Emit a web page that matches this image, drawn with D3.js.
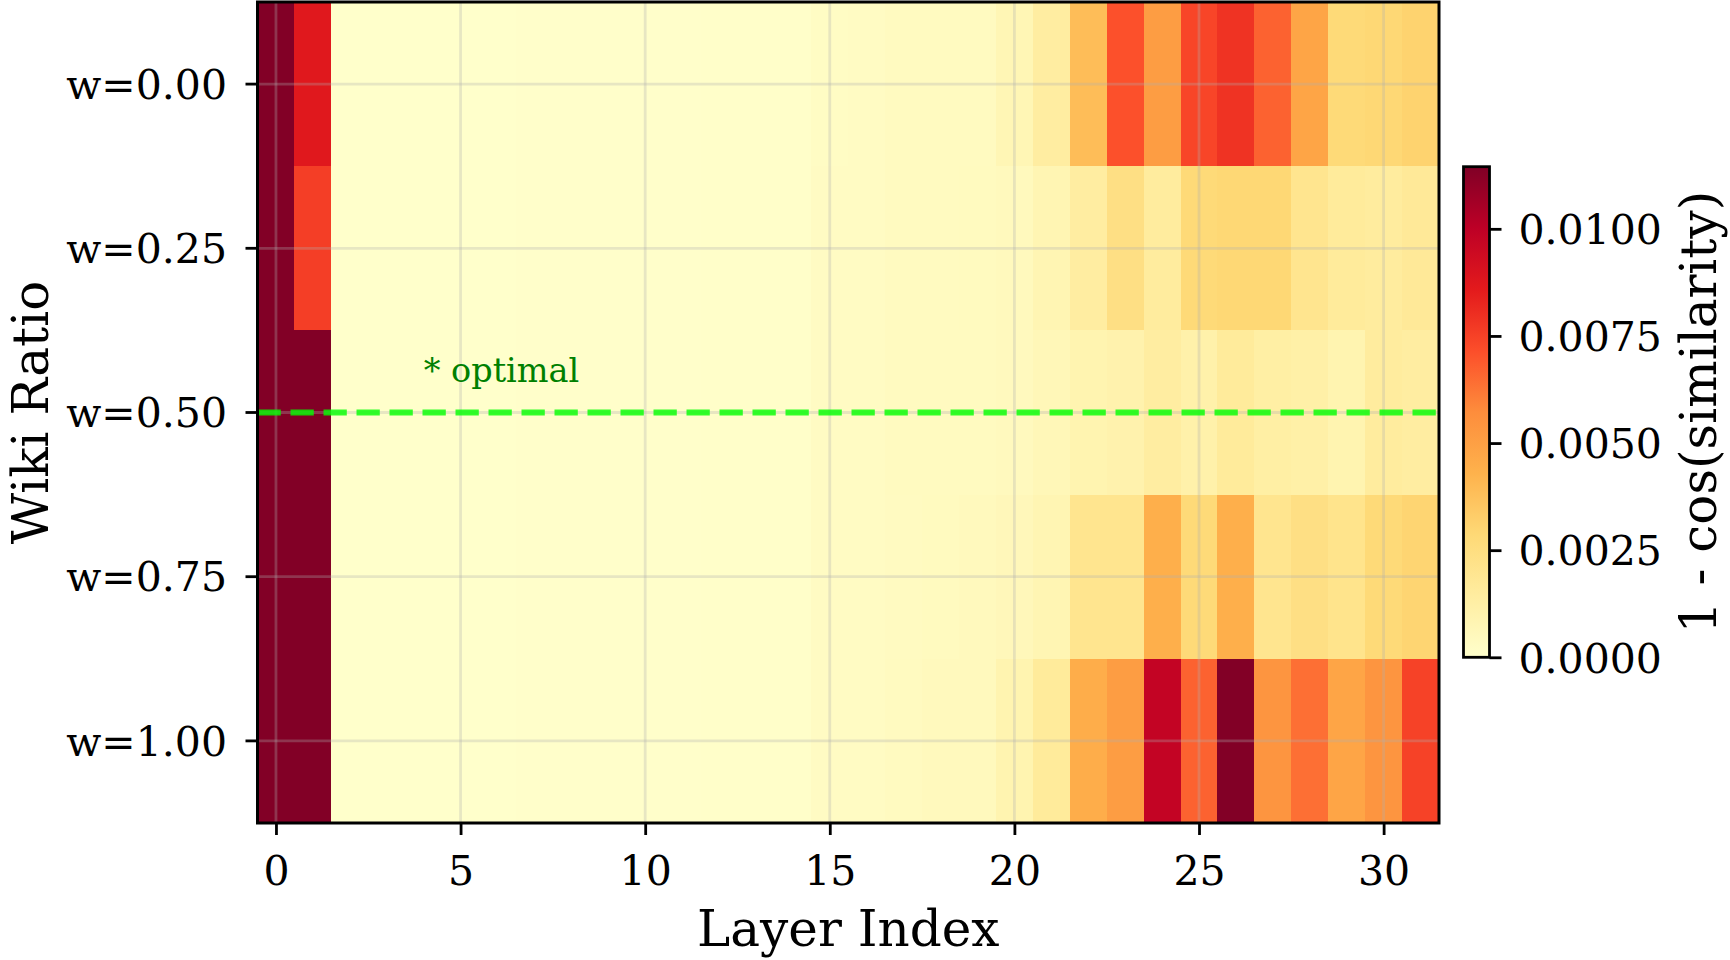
<!DOCTYPE html>
<html>
<head>
<meta charset="utf-8">
<script src="https://cdn.jsdelivr.net/npm/d3@7"></script>
<style>
  html, body { margin: 0; padding: 0; background: #fff; }
  svg { display: block; }
  text { font-family: "DejaVu Serif", serif; fill: #000; }
</style>
</head>
<body>
<svg id="chart" width="1730" height="960"></svg>
<script>
// ---------- data ----------
const layers = [0,1,2,3,4,5,6,7,8,9,10,11,12,13,14,15,16,17,18,19,20,21,22,23,24,25,26,27,28,29,30,31];
const ratios = ["w=0.00", "w=0.25", "w=0.50", "w=0.75", "w=1.00"];
const xTicks = [0, 5, 10, 15, 20, 25, 30];
const cbarTicks = [0.0000, 0.0025, 0.0050, 0.0075, 0.0100];
const optimalRatio = "w=0.50";
const optimalLabel = "* optimal";

const w000 = [0.0114,0.0087,0.00003,0.00003,0.00003,0.00003,0.00003,0.00005,0.00005,0.00005,0.00005,0.00005,0.0001,0.0001,0.0001,0.00027,0.0003,0.0004,0.0004,0.0004,0.00075,0.0014,0.0039,0.0071,0.0051,0.0074,0.0079,0.0067,0.0048,0.0028,0.0029,0.0031];
const w025 = [0.0114,0.0076,0.00003,0.00003,0.00003,0.00003,0.00003,0.00005,0.00005,0.00005,0.00005,0.00005,0.0001,0.0001,0.0001,0.00028,0.0003,0.00038,0.0004,0.00042,0.0005,0.0008,0.0014,0.0024,0.0015,0.0028,0.0029,0.0029,0.0020,0.0016,0.0015,0.0017];
const w050 = [0.0114,0.0114,0.00003,0.00003,0.00003,0.00003,0.00003,0.00005,0.00005,0.00005,0.00005,0.00005,0.0001,0.0001,0.0001,0.0003,0.0003,0.0004,0.0004,0.0004,0.00045,0.00065,0.0009,0.0010,0.0014,0.0011,0.0016,0.0013,0.0012,0.0009,0.0015,0.0014];
const w075 = [0.0114,0.0114,0.00003,0.00003,0.00003,0.00003,0.00003,0.00005,0.00005,0.00005,0.00005,0.00005,0.0001,0.0001,0.0001,0.0003,0.0003,0.00037,0.00042,0.0005,0.0006,0.0008,0.0020,0.0020,0.0044,0.0028,0.0044,0.0020,0.0024,0.0021,0.0028,0.0030];
const w100 = [0.0114,0.0114,0.00003,0.00003,0.00003,0.00003,0.00003,0.00005,0.00005,0.00005,0.00005,0.00005,0.0001,0.0001,0.0001,0.0003,0.0003,0.0004,0.0005,0.0005,0.0009,0.0016,0.0045,0.0051,0.0098,0.0067,0.0114,0.0054,0.0064,0.0048,0.0054,0.0075];
const rowValues = [w000, w025, w050, w075, w100];

const vmin = 0, vmax = 0.01145;
const ylorrd = ["#ffffcc","#ffeda0","#fed976","#feb24c","#fd8d3c","#fc4e2a","#e31a1c","#bd0026","#800026"];

// ---------- layout ----------
const svg = d3.select("#chart");
const L = 257.5, R = 1439, T = 2, B = 823;
const FONT_TICK = 41, FONT_LABEL = 50;

const x = d3.scaleLinear().domain([-0.5, 31.5]).range([L, R]);
const y = d3.scaleBand().domain(ratios).range([T, B]).padding(0);
const color = d3.scaleLinear()
  .domain(d3.range(ylorrd.length).map(i => vmin + (vmax - vmin) * i / (ylorrd.length - 1)))
  .range(ylorrd)
  .clamp(true);

const cells = [];
ratios.forEach((r, ri) => layers.forEach((l, li) => cells.push({ r, l, v: rowValues[ri][li] })));

// heatmap cells
svg.append("g").selectAll("rect").data(cells).join("rect")
  .attr("x", d => x(d.l - 0.5))
  .attr("y", d => y(d.r))
  .attr("width", d => x(d.l + 0.5) - x(d.l - 0.5) + 0.4)
  .attr("height", y.bandwidth() + 0.4)
  .attr("fill", d => color(d.v))
  .attr("shape-rendering", "crispEdges");

// grid
const grid = svg.append("g").attr("stroke", "#b0b0b0").attr("stroke-opacity", 0.3).attr("stroke-width", 2.8);
grid.selectAll("line.gx").data(xTicks).join("line").attr("class", "gx")
  .attr("x1", d => x(d)).attr("x2", d => x(d)).attr("y1", T).attr("y2", B);
grid.selectAll("line.gy").data(ratios).join("line").attr("class", "gy")
  .attr("x1", L).attr("x2", R)
  .attr("y1", d => y(d) + y.bandwidth() / 2).attr("y2", d => y(d) + y.bandwidth() / 2);

// optimal dashed line
const yOpt = y(optimalRatio) + y.bandwidth() / 2;
svg.append("line")
  .attr("x1", L).attr("x2", R).attr("y1", yOpt).attr("y2", yOpt)
  .attr("stroke", "#00ff00").attr("stroke-opacity", 0.8)
  .attr("stroke-width", 6).attr("stroke-dasharray", "23.3 9.7");

svg.append("text")
  .attr("x", x(4)).attr("y", yOpt - 31)
  .attr("font-size", 33.5).style("fill", "#008000")
  .text(optimalLabel);

// frame
svg.append("rect").attr("x", L).attr("y", T).attr("width", R - L).attr("height", B - T)
  .attr("fill", "none").attr("stroke", "#000").attr("stroke-width", 3);

// x axis
const gx = svg.append("g").attr("transform", `translate(0,${B})`)
  .call(d3.axisBottom(x).tickValues(xTicks).tickSize(12).tickFormat(d3.format("d")));
gx.select(".domain").remove();
gx.selectAll(".tick line").attr("stroke", "#000").attr("stroke-width", 2.8);
gx.selectAll(".tick text").attr("y", 62).attr("dy", null)
  .attr("font-size", FONT_TICK).attr("font-family", "DejaVu Serif").style("fill", "#000");

// y axis
const gy = svg.append("g").attr("transform", `translate(${L},0)`)
  .call(d3.axisLeft(y).tickSize(12).tickPadding(18.5));
gy.select(".domain").remove();
gy.selectAll(".tick line").attr("stroke", "#000").attr("stroke-width", 2.8);
gy.selectAll(".tick text").attr("dy", "0.36em")
  .attr("font-size", FONT_TICK).attr("font-family", "DejaVu Serif").style("fill", "#000");

// axis labels
svg.append("text").attr("x", (L + R) / 2).attr("y", 946)
  .attr("text-anchor", "middle").attr("font-size", FONT_LABEL).text("Layer Index");
svg.append("text").attr("transform", `translate(48,${(T + B) / 2}) rotate(-90)`)
  .attr("text-anchor", "middle").attr("font-size", FONT_LABEL).text("Wiki Ratio");

// colorbar
const CL = 1463.5, CR = 1489.5, CT = 166.7, CB = 657.3;
const cy = d3.scaleLinear().domain([vmin, vmax]).range([CB, CT]);
const defs = svg.append("defs");
const grad = defs.append("linearGradient").attr("id", "cbar")
  .attr("x1", 0).attr("y1", 1).attr("x2", 0).attr("y2", 0);
grad.selectAll("stop").data(color.domain()).join("stop")
  .attr("offset", d => (d - vmin) / (vmax - vmin))
  .attr("stop-color", d => color(d));
svg.append("rect").attr("x", CL).attr("y", CT).attr("width", CR - CL).attr("height", CB - CT)
  .attr("fill", "url(#cbar)");
svg.append("rect").attr("x", CL).attr("y", CT).attr("width", CR - CL).attr("height", CB - CT)
  .attr("fill", "none").attr("stroke", "#000").attr("stroke-width", 2.8);
const gc = svg.append("g").attr("transform", `translate(${CR},0)`)
  .call(d3.axisRight(cy).tickValues(cbarTicks).tickSize(12).tickPadding(17).tickFormat(d3.format(".4f")));
gc.select(".domain").remove();
gc.selectAll(".tick line").attr("stroke", "#000").attr("stroke-width", 2.8);
gc.selectAll(".tick text").attr("dy", "0.36em")
  .attr("font-size", FONT_TICK).attr("font-family", "DejaVu Serif").style("fill", "#000");
svg.append("text").attr("transform", `translate(1716,${(CT + CB) / 2}) rotate(-90)`)
  .attr("text-anchor", "middle").attr("font-size", FONT_LABEL).text("1 - cos(similarity)");
</script>
</body>
</html>
